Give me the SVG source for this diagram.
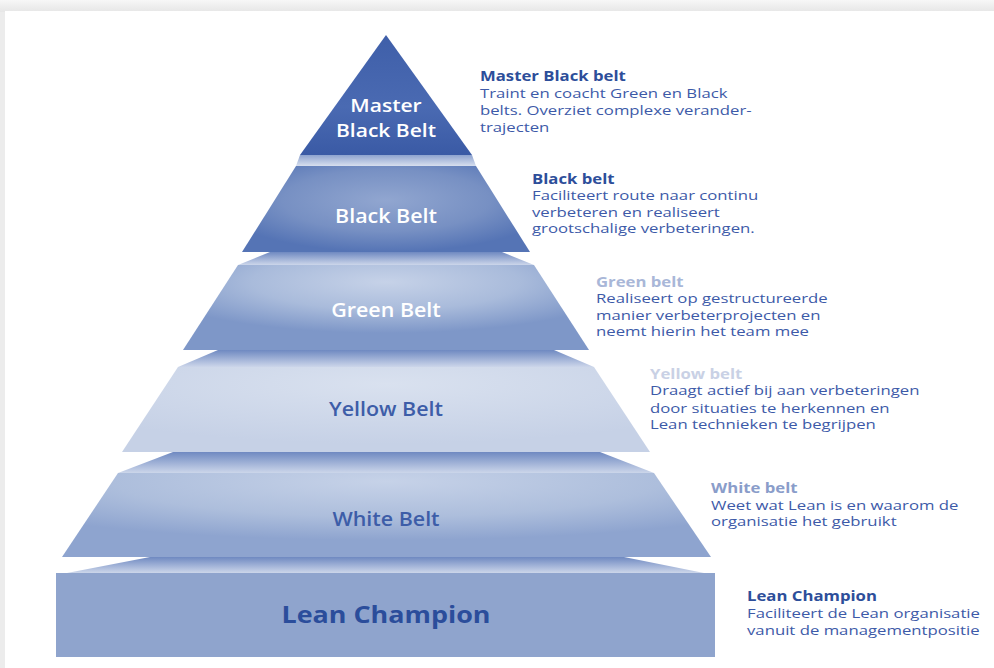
<svg xmlns="http://www.w3.org/2000/svg" width="994" height="668" viewBox="0 0 994 668">
<defs>
<style>
.lbl{font-family:"Open Sans","Liberation Sans",sans-serif;font-weight:600;text-anchor:middle}
.w{fill:#ffffff;font-size:19.5px}
.b{fill:#3d5da8;font-size:19.5px}
.t{font-family:"Open Sans","Liberation Sans",sans-serif;font-weight:700;font-size:13.5px}
.d{font-family:"Open Sans","Liberation Sans",sans-serif;font-size:13.5px;fill:#3d5aa8}
</style>
<linearGradient id="bgTop" x1="0" y1="0" x2="0" y2="1">
<stop offset="0" stop-color="#f7f7f7"/><stop offset="1" stop-color="#e6e6e6"/>
</linearGradient>
<linearGradient id="gMaster" x1="0" y1="0" x2="0" y2="1">
<stop offset="0" stop-color="#3f5fa9"/><stop offset="0.6" stop-color="#4a6ab2"/><stop offset="1" stop-color="#3a5aa5"/>
</linearGradient>
<radialGradient id="gBlack" cx="0.5" cy="0.4" r="0.6">
<stop offset="0" stop-color="#91a6d0"/><stop offset="0.6" stop-color="#7790c3"/><stop offset="1" stop-color="#5574b5"/>
</radialGradient>
<radialGradient id="gGreen" cx="0.5" cy="0.2" r="0.6">
<stop offset="0" stop-color="#c6d2e8"/><stop offset="0.55" stop-color="#a9bbdb"/><stop offset="1" stop-color="#7e97c8"/>
</radialGradient>
<radialGradient id="gYellow" cx="0.5" cy="0.2" r="0.7">
<stop offset="0" stop-color="#d9e1ef"/><stop offset="1" stop-color="#c6d1e6"/>
</radialGradient>
<radialGradient id="gWhite" cx="0.5" cy="0.1" r="0.7">
<stop offset="0" stop-color="#c6d2e8"/><stop offset="0.6" stop-color="#adbedc"/><stop offset="1" stop-color="#8ea4cf"/>
</radialGradient>
<linearGradient id="gShelf" x1="0" y1="0" x2="0" y2="1">
<stop offset="0" stop-color="#6f89c1"/><stop offset="1" stop-color="#ccd6ea"/>
</linearGradient>
<linearGradient id="gShelf0" x1="0" y1="0" x2="0" y2="1">
<stop offset="0" stop-color="#8ea3cf"/><stop offset="1" stop-color="#d7dfee"/>
</linearGradient>
</defs>

<rect x="0" y="0" width="994" height="668" fill="#ececec"/>
<rect x="0" y="0" width="994" height="12" fill="url(#bgTop)"/>
<rect x="5" y="11" width="989" height="657" fill="#ffffff"/>

<g id="shelves">
<polygon points="300,155 472,155 476,166 296,166" fill="url(#gShelf0)"/>
<polygon points="270,252 502,252 534,265 238,265" fill="url(#gShelf)"/>
<polygon points="218,350 554,350 594,367 178,367" fill="url(#gShelf)"/>
<polygon points="173,452 600,452 654,473 118,473" fill="url(#gShelf)"/>
<polygon points="150,557 624,557 704,573 67,573" fill="url(#gShelf)"/>
</g>

<g id="master-black-belt">
<polygon points="386,35 472,155 300,155" fill="url(#gMaster)"/>
<text class="lbl w" transform="translate(386,112) scale(1.17,1)" style="font-size:18px">Master</text>
<text class="lbl w" transform="translate(386,137) scale(1.17,1)" style="font-size:18px">Black Belt</text>
</g>

<g id="black-belt">
<polygon points="296,166 476,166 530,252 242,252" fill="url(#gBlack)"/>
<text class="lbl w" transform="translate(386,223) scale(1.1,1)">Black Belt</text>
</g>

<g id="green-belt">
<polygon points="238,265 534,265 589,350 183,350" fill="url(#gGreen)"/>
<text class="lbl w" transform="translate(386,317) scale(1.1,1)">Green Belt</text>
</g>

<g id="yellow-belt">
<polygon points="178,367 594,367 650,452 122,452" fill="url(#gYellow)"/>
<text class="lbl b" transform="translate(386,416) scale(1.1,1)">Yellow Belt</text>
</g>

<g id="white-belt">
<polygon points="118,473 654,473 711,557 62,557" fill="url(#gWhite)"/>
<text class="lbl b" transform="translate(386,526) scale(1.1,1)">White Belt</text>
</g>

<g id="lean-champion">
<rect x="56" y="573" width="659" height="84" fill="#8fa4cd"/>
<text class="lbl" transform="translate(386,623) scale(1.17,1)" style="font-size:23px;font-weight:700;fill:#2b4d9b">Lean Champion</text>
</g>

<g id="desc-master" transform="translate(480,0) scale(1.24,1)">
<text class="t" x="0" y="81" fill="#2d4e9a">Master Black belt</text>
<text class="d" x="0" y="98">Traint en coacht Green en Black</text>
<text class="d" x="0" y="115">belts. Overziet complexe verander-</text>
<text class="d" x="0" y="132">trajecten</text>
</g>
<g id="desc-black" transform="translate(532,0) scale(1.24,1)">
<text class="t" x="0" y="184" fill="#2d4e9a">Black belt</text>
<text class="d" x="0" y="200">Faciliteert route naar continu</text>
<text class="d" x="0" y="217">verbeteren en realiseert</text>
<text class="d" x="0" y="233">grootschalige verbeteringen.</text>
</g>
<g id="desc-green" transform="translate(596,0) scale(1.24,1)">
<text class="t" x="0" y="287" fill="#a9b7d8">Green belt</text>
<text class="d" x="0" y="303">Realiseert op gestructureerde</text>
<text class="d" x="0" y="320">manier verbeterprojecten en</text>
<text class="d" x="0" y="336">neemt hierin het team mee</text>
</g>
<g id="desc-yellow" transform="translate(650,0) scale(1.24,1)">
<text class="t" x="0" y="379" fill="#c9d1e5">Yellow belt</text>
<text class="d" x="0" y="395">Draagt actief bij aan verbeteringen</text>
<text class="d" x="0" y="413">door situaties te herkennen en</text>
<text class="d" x="0" y="429">Lean technieken te begrijpen</text>
</g>
<g id="desc-white" transform="translate(711,0) scale(1.24,1)">
<text class="t" x="0" y="493" fill="#8a9dca">White belt</text>
<text class="d" x="0" y="510">Weet wat Lean is en waarom de</text>
<text class="d" x="0" y="526">organisatie het gebruikt</text>
</g>
<g id="desc-lean" transform="translate(747,0) scale(1.24,1)">
<text class="t" x="0" y="601" fill="#2d4e9a">Lean Champion</text>
<text class="d" x="0" y="618">Faciliteert de Lean organisatie</text>
<text class="d" x="0" y="635">vanuit de managementpositie</text>
</g>
</svg>
